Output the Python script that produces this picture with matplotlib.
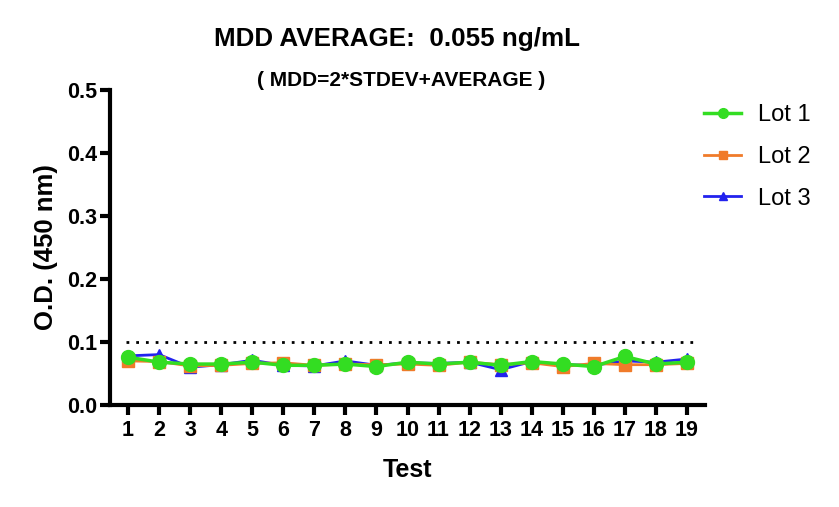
import matplotlib
matplotlib.use("Agg")
import matplotlib.pyplot as plt
from matplotlib.ticker import FormatStrFormatter

plt.rcParams['font.family'] = ['Liberation Sans', 'DejaVu Sans']

tests = list(range(1, 20))
lot1 = [0.076, 0.068, 0.065, 0.065, 0.068, 0.063, 0.063, 0.065, 0.061, 0.068,
        0.065, 0.068, 0.063, 0.069, 0.065, 0.061, 0.077, 0.065, 0.068]
lot2 = [0.070, 0.069, 0.062, 0.063, 0.066, 0.067, 0.063, 0.065, 0.064, 0.065,
        0.063, 0.068, 0.064, 0.067, 0.061, 0.066, 0.064, 0.064, 0.066]
lot3 = [0.078, 0.080, 0.060, 0.064, 0.071, 0.063, 0.062, 0.070, 0.063, 0.067,
        0.066, 0.068, 0.056, 0.069, 0.064, 0.063, 0.070, 0.068, 0.073]
mdd_line = 0.1

fig = plt.figure(figsize=(8.39, 5.07), dpi=100)
ax = fig.add_axes([110/839, 102/507, 595/839, 315/507])

l3, = ax.plot(tests, lot3, color='#2222ee', marker='^', markersize=9, lw=2, label='Lot 3', zorder=3)
l2, = ax.plot(tests, lot2, color='#f07b2a', marker='s', markersize=9, lw=2, label='Lot 2', zorder=4)
l1, = ax.plot(tests, lot1, color='#33dd22', marker='o', markersize=10, lw=2.5, label='Lot 1', zorder=5)
ax.hlines(mdd_line, 0.95, 19.35, color='black', ls=(0, (1, 2.5)), lw=2, zorder=2)

ax.set_xlim(0.42, 19.58)
ax.set_ylim(0, 0.5)
ax.set_xticks(tests)
ax.set_yticks([0.0, 0.1, 0.2, 0.3, 0.4, 0.5])
ax.yaxis.set_major_formatter(FormatStrFormatter('%.1f'))
for s in ['top', 'right']:
    ax.spines[s].set_visible(False)
for s in ['left', 'bottom']:
    ax.spines[s].set_linewidth(3)
ax.tick_params(axis='both', width=3, length=7, labelsize=15.5, direction='out', pad=2)
ax.tick_params(axis='x', pad=4)
for lab in ax.get_xticklabels() + ax.get_yticklabels():
    lab.set_fontweight('bold')

ax.set_xlabel('Test', fontsize=18, fontweight='bold', labelpad=12)
ax.set_ylabel('O.D. (450 nm)', fontsize=18.5, fontweight='bold', labelpad=7)

fig.text(397/839, 1 - 39/507, 'MDD AVERAGE:  0.055 ng/mL', ha='center', va='center',
         fontsize=18.7, fontweight='bold')
fig.text(401/839, 1 - 81/507, '( MDD=2*STDEV+AVERAGE )', ha='center', va='center',
         fontsize=15, fontweight='bold')

leg = ax.legend(handles=[l1, l2, l3], loc='upper left', bbox_to_anchor=(0.962, 1.022),
                frameon=False, fontsize=17, handlelength=1.6, handletextpad=0.7,
                markerscale=0.7, labelspacing=0.83)

fig.savefig('out.png', dpi=100)
